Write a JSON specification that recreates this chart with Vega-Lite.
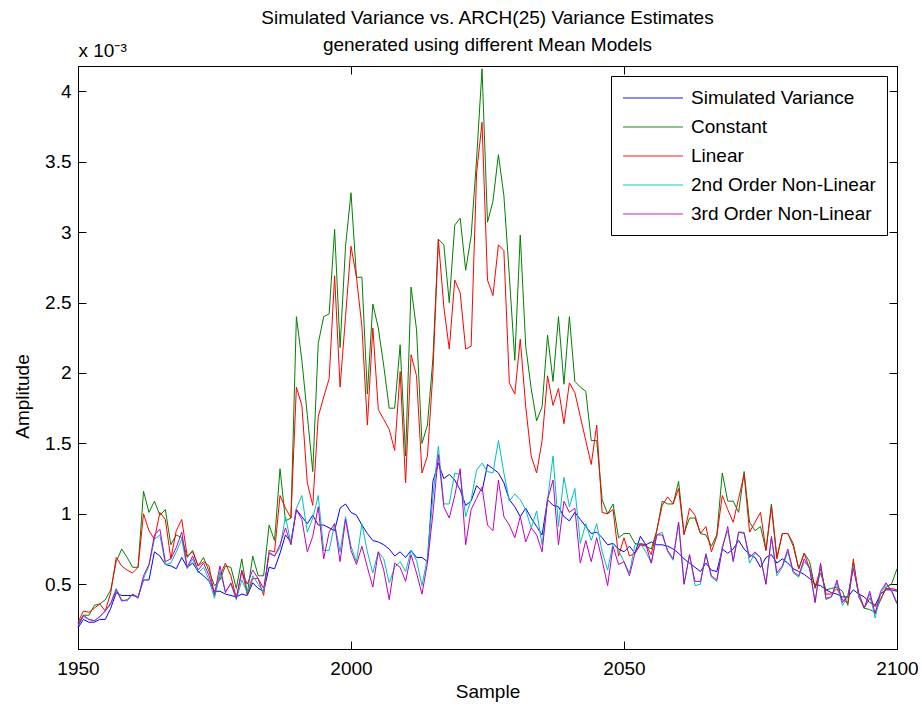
{
  "$schema": "https://vega.github.io/schema/vega-lite/v6.json",
  "width": 819,
  "height": 583,
  "autosize": {"type": "none"},
  "padding": {"left": 78, "top": 66, "right": 25, "bottom": 58},
  "background": "white",
  "config": {
    "font": "Liberation Sans",
    "view": {"stroke": "black", "strokeWidth": 1},
    "axis": {"grid": false, "domainColor": "black", "tickColor": "black", "labelColor": "black", "titleColor": "black", "labelFontSize": 19, "titleFontSize": 19, "titleFontWeight": "normal", "labelFont": "Liberation Sans", "titleFont": "Liberation Sans"}
  },
  "title": {"text": ["Simulated Variance vs. ARCH(25) Variance Estimates", "generated using different Mean Models"], "fontSize": 19, "fontWeight": "normal", "font": "Liberation Sans", "color": "black", "anchor": "middle", "lineHeight": 27, "offset": -14},
  "data": {"values": [
{"s":1950,"sv":0.19,"c":0.22,"l":0.23,"n2":0.21,"n3":0.20},
{"s":1951,"sv":0.25,"c":0.28,"l":0.31,"n2":0.27,"n3":0.28},
{"s":1952,"sv":0.23,"c":0.28,"l":0.30,"n2":0.25,"n3":0.25},
{"s":1953,"sv":0.23,"c":0.35,"l":0.33,"n2":0.24,"n3":0.24},
{"s":1954,"sv":0.25,"c":0.36,"l":0.36,"n2":0.27,"n3":0.27},
{"s":1955,"sv":0.25,"c":0.39,"l":0.31,"n2":0.31,"n3":0.31},
{"s":1956,"sv":0.33,"c":0.46,"l":0.44,"n2":0.37,"n3":0.36},
{"s":1957,"sv":0.44,"c":0.66,"l":0.69,"n2":0.47,"n3":0.46},
{"s":1958,"sv":0.42,"c":0.75,"l":0.63,"n2":0.39,"n3":0.38},
{"s":1959,"sv":0.42,"c":0.69,"l":0.60,"n2":0.38,"n3":0.39},
{"s":1960,"sv":0.42,"c":0.62,"l":0.58,"n2":0.43,"n3":0.43},
{"s":1961,"sv":0.41,"c":0.62,"l":0.62,"n2":0.41,"n3":0.40},
{"s":1962,"sv":0.53,"c":1.16,"l":1.00,"n2":0.54,"n3":0.56},
{"s":1963,"sv":0.53,"c":1.01,"l":0.88,"n2":0.63,"n3":0.64},
{"s":1964,"sv":0.73,"c":1.09,"l":0.82,"n2":0.82,"n3":0.85},
{"s":1965,"sv":0.70,"c":0.99,"l":1.01,"n2":0.85,"n3":0.89},
{"s":1966,"sv":0.64,"c":1.03,"l":0.96,"n2":0.64,"n3":0.66},
{"s":1967,"sv":0.63,"c":0.78,"l":0.68,"n2":0.65,"n3":0.68},
{"s":1968,"sv":0.61,"c":0.85,"l":0.88,"n2":0.73,"n3":0.76},
{"s":1969,"sv":0.69,"c":0.83,"l":0.96,"n2":0.82,"n3":0.87},
{"s":1970,"sv":0.62,"c":0.69,"l":0.70,"n2":0.61,"n3":0.62},
{"s":1971,"sv":0.65,"c":0.74,"l":0.73,"n2":0.68,"n3":0.70},
{"s":1972,"sv":0.59,"c":0.63,"l":0.63,"n2":0.58,"n3":0.60},
{"s":1973,"sv":0.56,"c":0.69,"l":0.66,"n2":0.62,"n3":0.65},
{"s":1974,"sv":0.52,"c":0.59,"l":0.63,"n2":0.53,"n3":0.56},
{"s":1975,"sv":0.45,"c":0.49,"l":0.42,"n2":0.40,"n3":0.43},
{"s":1976,"sv":0.45,"c":0.53,"l":0.56,"n2":0.59,"n3":0.63},
{"s":1977,"sv":0.43,"c":0.63,"l":0.65,"n2":0.45,"n3":0.44},
{"s":1978,"sv":0.42,"c":0.62,"l":0.56,"n2":0.50,"n3":0.51},
{"s":1979,"sv":0.41,"c":0.47,"l":0.40,"n2":0.39,"n3":0.40},
{"s":1980,"sv":0.43,"c":0.68,"l":0.60,"n2":0.53,"n3":0.59},
{"s":1981,"sv":0.42,"c":0.43,"l":0.43,"n2":0.44,"n3":0.50},
{"s":1982,"sv":0.51,"c":0.70,"l":0.54,"n2":0.56,"n3":0.60},
{"s":1983,"sv":0.47,"c":0.56,"l":0.54,"n2":0.50,"n3":0.54},
{"s":1984,"sv":0.45,"c":0.56,"l":0.42,"n2":0.44,"n3":0.47},
{"s":1985,"sv":0.62,"c":0.92,"l":0.74,"n2":0.73,"n3":0.72},
{"s":1986,"sv":0.61,"c":0.81,"l":0.73,"n2":0.70,"n3":0.70},
{"s":1987,"sv":0.72,"c":1.32,"l":1.13,"n2":0.76,"n3":0.78},
{"s":1988,"sv":0.85,"c":0.95,"l":1.04,"n2":0.98,"n3":0.90},
{"s":1989,"sv":0.80,"c":0.97,"l":0.97,"n2":0.79,"n3":0.78},
{"s":1990,"sv":1.03,"c":2.40,"l":1.90,"n2":1.04,"n3":1.03},
{"s":1991,"sv":0.98,"c":2.09,"l":1.77,"n2":1.13,"n3":0.96},
{"s":1992,"sv":0.93,"c":1.70,"l":1.22,"n2":0.87,"n3":0.73},
{"s":1993,"sv":0.99,"c":1.30,"l":1.06,"n2":0.97,"n3":0.84},
{"s":1994,"sv":0.92,"c":2.21,"l":1.69,"n2":1.13,"n3":1.05},
{"s":1995,"sv":0.92,"c":2.40,"l":1.83,"n2":0.74,"n3":0.68},
{"s":1996,"sv":0.90,"c":2.42,"l":1.96,"n2":0.74,"n3":0.87},
{"s":1997,"sv":0.88,"c":3.02,"l":2.69,"n2":0.93,"n3":0.93},
{"s":1998,"sv":1.04,"c":2.18,"l":1.90,"n2":0.73,"n3":0.66},
{"s":1999,"sv":1.07,"c":2.90,"l":2.40,"n2":0.98,"n3":0.96},
{"s":2000,"sv":1.01,"c":3.28,"l":2.90,"n2":0.77,"n3":0.74},
{"s":2001,"sv":0.99,"c":2.68,"l":2.68,"n2":0.66,"n3":0.64},
{"s":2002,"sv":0.92,"c":2.68,"l":2.33,"n2":0.93,"n3":0.77},
{"s":2003,"sv":0.86,"c":1.85,"l":1.63,"n2":0.73,"n3":0.62},
{"s":2004,"sv":0.81,"c":2.49,"l":2.32,"n2":0.58,"n3":0.48},
{"s":2005,"sv":0.80,"c":2.32,"l":1.74,"n2":0.73,"n3":0.73},
{"s":2006,"sv":0.78,"c":2.05,"l":1.67,"n2":0.68,"n3":0.60},
{"s":2007,"sv":0.75,"c":1.75,"l":1.60,"n2":0.51,"n3":0.39},
{"s":2008,"sv":0.70,"c":1.75,"l":1.45,"n2":0.62,"n3":0.65},
{"s":2009,"sv":0.73,"c":2.20,"l":2.01,"n2":0.66,"n3":0.62},
{"s":2010,"sv":0.69,"c":1.41,"l":1.22,"n2":0.59,"n3":0.52},
{"s":2011,"sv":0.74,"c":2.61,"l":2.13,"n2":0.74,"n3":0.71},
{"s":2012,"sv":0.69,"c":2.31,"l":1.98,"n2":0.67,"n3":0.58},
{"s":2013,"sv":0.69,"c":1.50,"l":1.29,"n2":0.49,"n3":0.43},
{"s":2014,"sv":0.66,"c":1.63,"l":1.41,"n2":0.69,"n3":0.65},
{"s":2015,"sv":1.23,"c":2.10,"l":2.00,"n2":1.12,"n3":1.00},
{"s":2016,"sv":1.36,"c":2.95,"l":2.95,"n2":1.48,"n3":1.42},
{"s":2017,"sv":1.25,"c":2.91,"l":2.47,"n2":1.07,"n3":1.05},
{"s":2018,"sv":1.28,"c":2.50,"l":2.17,"n2":1.07,"n3":0.97},
{"s":2019,"sv":1.24,"c":3.05,"l":2.66,"n2":1.29,"n3":1.13},
{"s":2020,"sv":1.17,"c":3.10,"l":2.57,"n2":1.28,"n3":1.32},
{"s":2021,"sv":1.06,"c":2.73,"l":2.17,"n2":0.98,"n3":0.78},
{"s":2022,"sv":1.09,"c":2.97,"l":2.19,"n2":1.10,"n3":1.03},
{"s":2023,"sv":1.20,"c":3.52,"l":3.42,"n2":1.31,"n3":1.11},
{"s":2024,"sv":1.16,"c":4.16,"l":3.78,"n2":1.36,"n3":1.19},
{"s":2025,"sv":1.35,"c":3.07,"l":2.66,"n2":1.30,"n3":0.92},
{"s":2026,"sv":1.32,"c":3.22,"l":2.55,"n2":1.29,"n3":0.88},
{"s":2027,"sv":1.29,"c":3.55,"l":2.91,"n2":1.52,"n3":1.24},
{"s":2028,"sv":1.22,"c":3.26,"l":2.87,"n2":1.29,"n3":0.98},
{"s":2029,"sv":1.10,"c":2.69,"l":1.93,"n2":1.09,"n3":0.92},
{"s":2030,"sv":1.05,"c":2.09,"l":1.85,"n2":1.14,"n3":0.83},
{"s":2031,"sv":0.98,"c":2.98,"l":2.24,"n2":1.10,"n3":0.98},
{"s":2032,"sv":1.04,"c":2.19,"l":1.76,"n2":1.03,"n3":0.80},
{"s":2033,"sv":0.97,"c":1.89,"l":1.41,"n2":0.90,"n3":0.90},
{"s":2034,"sv":0.91,"c":1.66,"l":1.29,"n2":1.02,"n3":0.85},
{"s":2035,"sv":0.85,"c":1.76,"l":1.52,"n2":0.78,"n3":0.73},
{"s":2036,"sv":1.10,"c":2.27,"l":1.98,"n2":1.10,"n3":1.10},
{"s":2037,"sv":1.06,"c":1.94,"l":1.77,"n2":1.41,"n3":1.24},
{"s":2038,"sv":1.05,"c":2.40,"l":1.89,"n2":0.91,"n3":0.78},
{"s":2039,"sv":0.98,"c":1.92,"l":1.64,"n2":1.26,"n3":1.09},
{"s":2040,"sv":0.95,"c":2.40,"l":1.93,"n2":1.05,"n3":1.01},
{"s":2041,"sv":1.01,"c":1.94,"l":1.86,"n2":1.18,"n3":1.04},
{"s":2042,"sv":0.96,"c":1.90,"l":1.69,"n2":0.79,"n3":0.65},
{"s":2043,"sv":0.91,"c":1.87,"l":1.52,"n2":0.93,"n3":0.81},
{"s":2044,"sv":0.86,"c":1.52,"l":1.35,"n2":0.81,"n3":0.66},
{"s":2045,"sv":0.87,"c":1.52,"l":1.63,"n2":0.93,"n3":0.83},
{"s":2046,"sv":0.83,"c":1.10,"l":1.01,"n2":0.73,"n3":0.67},
{"s":2047,"sv":0.78,"c":1.00,"l":1.00,"n2":0.60,"n3":0.49},
{"s":2048,"sv":0.79,"c":1.07,"l":1.03,"n2":0.79,"n3":0.77},
{"s":2049,"sv":0.75,"c":0.83,"l":0.70,"n2":0.74,"n3":0.64},
{"s":2050,"sv":0.73,"c":0.86,"l":0.83,"n2":0.66,"n3":0.66},
{"s":2051,"sv":0.77,"c":0.86,"l":0.70,"n2":0.58,"n3":0.56},
{"s":2052,"sv":0.72,"c":0.79,"l":0.72,"n2":0.78,"n3":0.72},
{"s":2053,"sv":0.84,"c":0.78,"l":0.79,"n2":0.79,"n3":0.78},
{"s":2054,"sv":0.78,"c":0.77,"l":0.78,"n2":0.73,"n3":0.78},
{"s":2055,"sv":0.80,"c":0.75,"l":0.71,"n2":0.65,"n3":0.65},
{"s":2056,"sv":0.78,"c":0.88,"l":0.88,"n2":0.85,"n3":0.85},
{"s":2057,"sv":0.78,"c":1.09,"l":1.06,"n2":0.87,"n3":0.85},
{"s":2058,"sv":0.77,"c":1.07,"l":1.12,"n2":0.73,"n3":0.74},
{"s":2059,"sv":0.75,"c":1.07,"l":1.07,"n2":0.67,"n3":0.68},
{"s":2060,"sv":0.72,"c":1.23,"l":1.18,"n2":0.94,"n3":0.94},
{"s":2061,"sv":0.68,"c":0.86,"l":0.85,"n2":0.50,"n3":0.50},
{"s":2062,"sv":0.65,"c":0.97,"l":1.04,"n2":0.71,"n3":0.71},
{"s":2063,"sv":0.62,"c":0.97,"l":0.99,"n2":0.49,"n3":0.52},
{"s":2064,"sv":0.59,"c":0.86,"l":0.86,"n2":0.50,"n3":0.52},
{"s":2065,"sv":0.65,"c":0.85,"l":0.91,"n2":0.72,"n3":0.71},
{"s":2066,"sv":0.60,"c":0.77,"l":0.73,"n2":0.55,"n3":0.56},
{"s":2067,"sv":0.59,"c":0.85,"l":0.84,"n2":0.52,"n3":0.53},
{"s":2068,"sv":0.75,"c":1.29,"l":1.13,"n2":0.77,"n3":0.75},
{"s":2069,"sv":0.72,"c":1.09,"l":1.03,"n2":0.88,"n3":0.91},
{"s":2070,"sv":0.75,"c":1.09,"l":0.94,"n2":0.67,"n3":0.66},
{"s":2071,"sv":0.81,"c":1.01,"l":1.11,"n2":0.87,"n3":0.87},
{"s":2072,"sv":0.75,"c":1.30,"l":1.28,"n2":0.87,"n3":0.86},
{"s":2073,"sv":0.71,"c":0.94,"l":0.87,"n2":0.65,"n3":0.69},
{"s":2074,"sv":0.69,"c":0.88,"l":0.94,"n2":0.72,"n3":0.73},
{"s":2075,"sv":0.62,"c":0.91,"l":1.01,"n2":0.69,"n3":0.69},
{"s":2076,"sv":0.69,"c":0.74,"l":0.74,"n2":0.50,"n3":0.50},
{"s":2077,"sv":0.71,"c":1.07,"l":1.05,"n2":0.83,"n3":0.84},
{"s":2078,"sv":0.65,"c":0.69,"l":0.68,"n2":0.56,"n3":0.58},
{"s":2079,"sv":0.68,"c":0.86,"l":0.86,"n2":0.62,"n3":0.63},
{"s":2080,"sv":0.65,"c":0.86,"l":0.86,"n2":0.73,"n3":0.75},
{"s":2081,"sv":0.61,"c":0.79,"l":0.77,"n2":0.58,"n3":0.59},
{"s":2082,"sv":0.59,"c":0.61,"l":0.61,"n2":0.55,"n3":0.56},
{"s":2083,"sv":0.57,"c":0.72,"l":0.72,"n2":0.66,"n3":0.68},
{"s":2084,"sv":0.54,"c":0.66,"l":0.61,"n2":0.62,"n3":0.61},
{"s":2085,"sv":0.50,"c":0.47,"l":0.48,"n2":0.37,"n3":0.37},
{"s":2086,"sv":0.49,"c":0.58,"l":0.61,"n2":0.64,"n3":0.65},
{"s":2087,"sv":0.46,"c":0.46,"l":0.43,"n2":0.39,"n3":0.40},
{"s":2088,"sv":0.44,"c":0.47,"l":0.43,"n2":0.41,"n3":0.41},
{"s":2089,"sv":0.43,"c":0.48,"l":0.47,"n2":0.51,"n3":0.53},
{"s":2090,"sv":0.41,"c":0.45,"l":0.39,"n2":0.35,"n3":0.37},
{"s":2091,"sv":0.41,"c":0.35,"l":0.37,"n2":0.41,"n3":0.42},
{"s":2092,"sv":0.46,"c":0.65,"l":0.68,"n2":0.63,"n3":0.61},
{"s":2093,"sv":0.43,"c":0.42,"l":0.41,"n2":0.42,"n3":0.44},
{"s":2094,"sv":0.41,"c":0.33,"l":0.33,"n2":0.33,"n3":0.33},
{"s":2095,"sv":0.37,"c":0.32,"l":0.40,"n2":0.43,"n3":0.45},
{"s":2096,"sv":0.35,"c":0.30,"l":0.34,"n2":0.26,"n3":0.29},
{"s":2097,"sv":0.43,"c":0.39,"l":0.39,"n2":0.43,"n3":0.45},
{"s":2098,"sv":0.46,"c":0.48,"l":0.47,"n2":0.50,"n3":0.51},
{"s":2099,"sv":0.46,"c":0.50,"l":0.47,"n2":0.46,"n3":0.45},
{"s":2100,"sv":0.45,"c":0.61,"l":0.46,"n2":0.37,"n3":0.36}
  ]},
  "transform": [{"fold": ["sv", "c", "l", "n2", "n3"], "as": ["series", "v"]}],
  "layer": [
    {
      "mark": {"type": "line", "strokeWidth": 1, "interpolate": "linear"},
      "encoding": {
        "x": {"field": "s", "type": "quantitative", "scale": {"domain": [1950, 2100], "nice": false, "zero": false},
              "axis": {"values": [1950, 2000, 2050, 2100], "format": "d", "title": "Sample", "tickSize": -8, "labelPadding": 18, "titlePadding": 4, "labelFlush": false}},
        "y": {"field": "v", "type": "quantitative", "scale": {"domain": [0.04, 4.18], "nice": false, "zero": false},
              "axis": {"values": [0.5, 1, 1.5, 2, 2.5, 3, 3.5, 4], "format": "~g", "title": "Amplitude", "tickSize": -8, "labelPadding": 15, "titlePadding": 12, "titleY": 330}},
        "color": {"field": "series", "type": "nominal",
                  "scale": {"domain": ["sv", "c", "l", "n2", "n3"], "range": ["#0000FF", "#008000", "#FF0000", "#00BFBF", "#BF00BF"]},
                  "legend": {"orient": "top-right", "offset": 10, "title": null, "labelLimit": 0,
                             "labelExpr": "{'sv': 'Simulated Variance', 'c': 'Constant', 'l': 'Linear', 'n2': '2nd Order Non-Linear', 'n3': '3rd Order Non-Linear'}[datum.label]",
                             "symbolType": "M-1,0H5", "symbolSize": 400, "symbolStrokeWidth": 1.5, "symbolOpacity": 0.6, "labelFontSize": 19, "labelFont": "Liberation Sans", "labelColor": "black", "labelOffset": 47,
                             "padding": 11, "rowPadding": 8, "strokeColor": "black", "fillColor": "white"}}
      }
    },
    {
      "mark": {"type": "line", "strokeOpacity": 0},
      "encoding": {
        "x": {"field": "s", "type": "quantitative", "scale": {"domain": [1950, 2100], "nice": false, "zero": false},
              "axis": {"orient": "top", "values": [1950, 2000, 2050, 2100], "labels": false, "tickSize": -8, "title": "x 10⁻³", "titleAnchor": "start", "titleAlign": "left", "titleX": 0, "titleY": -10, "titleBaseline": "alphabetic", "titleAngle": 0}},
        "y": {"field": "v", "type": "quantitative", "scale": {"domain": [0.04, 4.18], "nice": false, "zero": false},
              "axis": {"orient": "right", "values": [0.5, 1, 1.5, 2, 2.5, 3, 3.5, 4], "labels": false, "tickSize": -8, "title": null}},
        "detail": {"field": "series"}
      }
    }
  ],
  "resolve": {"scale": {"x": "independent", "y": "independent"}}
}
